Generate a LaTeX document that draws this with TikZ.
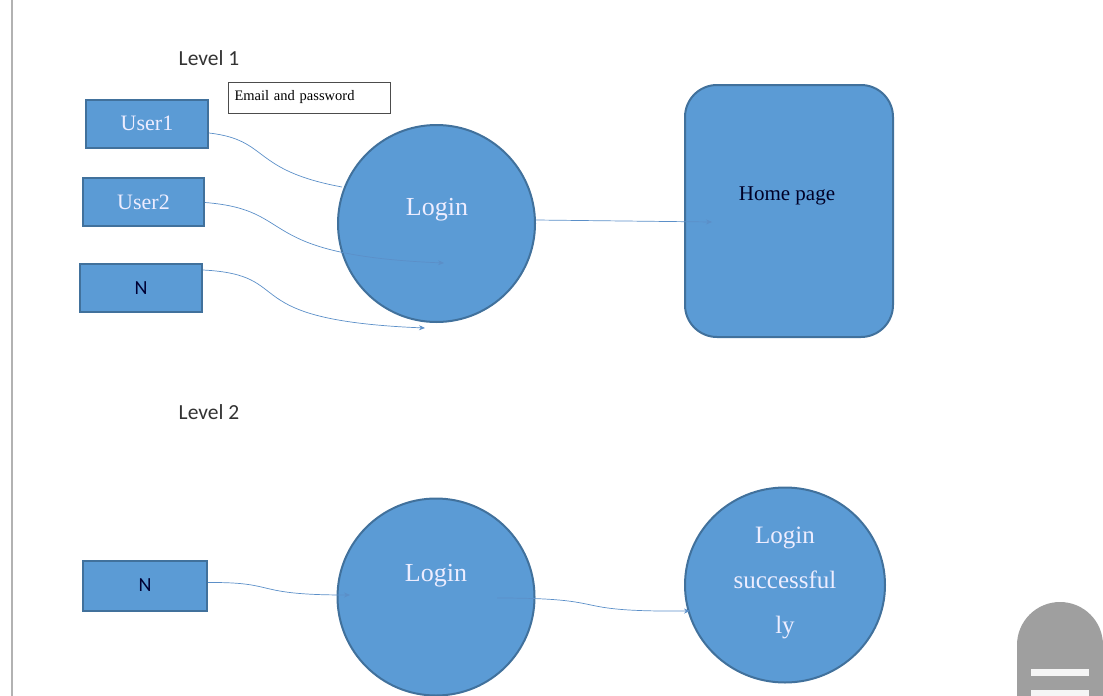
\documentclass[tikz,border=0pt]{standalone}
\usepackage{fontspec}
\setmainfont{Liberation Serif}
\newfontfamily\calib{Carlito}
\usetikzlibrary{arrows.meta,shapes.geometric}
\definecolor{bfill}{HTML}{5B9BD5}
\definecolor{bdraw}{HTML}{41719C}
\definecolor{conn}{HTML}{5B8FC8}
\tikzset{
  bbox/.style={draw=bdraw,line width=2pt,fill=bfill,minimum width=#1pt,minimum height=48pt,inner sep=0pt},
  bcirc/.style={ellipse,draw=bdraw,line width=2pt,fill=bfill,inner sep=0pt},
  wtext/.style={text=white!93!blue},
  conline/.style={draw=conn,line width=0.7pt},
  conarrow/.style={conline,-{Stealth[length=6pt,width=5pt]}},
  lvl/.style={font=\calib\fontsize{21.5}{24}\selectfont,text=black!80},
}
\begin{document}
\begin{tikzpicture}[x=1pt,y=-1pt]
\useasboundingbox (0,0) rectangle (1103,696);
\draw[gray!60,line width=1.5pt] (12,0) -- (12,696);
% Level 1
\node[lvl] (l1) at (209,58) {Level 1};
\node[draw=black!70,line width=0.8pt,minimum width=162pt,minimum height=31pt,inner sep=0pt,font=\fontsize{14.5}{16}\selectfont,text width=150pt,align=left] (email) at (309.5,97.5) {Email and password};
\node[bbox=122] (u1) at (147,124) {};
\node[wtext,font=\fontsize{22}{24}\selectfont] at (147,123) {User1};
\node[bbox=121] (u2) at (143.5,201.5) {};
\node[wtext,font=\fontsize{22}{24}\selectfont] at (143.5,202) {User2};
\node[bbox=122,font=\calib\fontsize{20}{22}\selectfont,text=black!80!blue] (n1) at (141,288) {N};
\node[bcirc,minimum width=197pt,minimum height=197pt] (login1) at (436.5,223.5) {};
\node[wtext,font=\fontsize{26}{30}\selectfont] at (437,210) {Login};
\node[draw=bdraw,line width=2pt,fill=bfill,rounded corners=32pt,minimum width=208pt,minimum height=252pt,inner sep=0pt] (home) at (789,211) {};
\node[font=\fontsize{21}{24}\selectfont,text=black!85!blue] at (787,196) {Home page};
\coordinate (hin) at (712,222);
\coordinate (in1) at (342,187);
\coordinate (in2) at (444,263);
\coordinate (in3) at (425,328);
\draw[conarrow] (login1.east |- 0,220) -- (hin);
\draw[conline] (u1.east) ++(0,9) coordinate (u1o) .. controls (270,140) and (250,170) .. (in1);
\draw[conarrow] (u2.east) ++(0,1) coordinate (u2o) .. controls (300,210) and (250,255) .. (in2);
\draw[conarrow] (n1.east) ++(0,-18) coordinate (n1o) .. controls (300,275) and (230,320) .. (in3);
% Level 2
\node[lvl] (l2) at (209,412) {Level 2};
\node[bbox=124,minimum height=50pt,font=\calib\fontsize{20}{22}\selectfont,text=black!80!blue] (n2) at (145,585.5) {N};
\node[bcirc,minimum width=197pt,minimum height=197pt] (login2) at (436,597) {};
\node[wtext,font=\fontsize{26}{30}\selectfont] at (436,576) {Login};
\node[bcirc,minimum width=200pt,minimum height=195pt] (succ) at (785,585) {};
\node[wtext,align=center,font=\fontsize{25}{45}\selectfont] at (785,583) {Login\\successful\\ly};
\coordinate (in4) at (350,595);
\coordinate (in5) at (690,611);
\coordinate (o5) at (497,598);
\draw[conarrow] (n2.east) ++(0,-3) .. controls (280,582) and (250,595) .. (in4);
\draw[conarrow] (o5) .. controls (620,598) and (560,612) .. (in5);
% gray scroll handle
\fill[gray!75] (1017,696) -- (1017,645) arc[start angle=180,end angle=360,radius=43] -- (1103,696) -- cycle;
\fill[white!92!gray] (1031,669) rectangle (1089,676);
\fill[white!92!gray] (1031,690) rectangle (1089,696);
\end{tikzpicture}
\end{document}
